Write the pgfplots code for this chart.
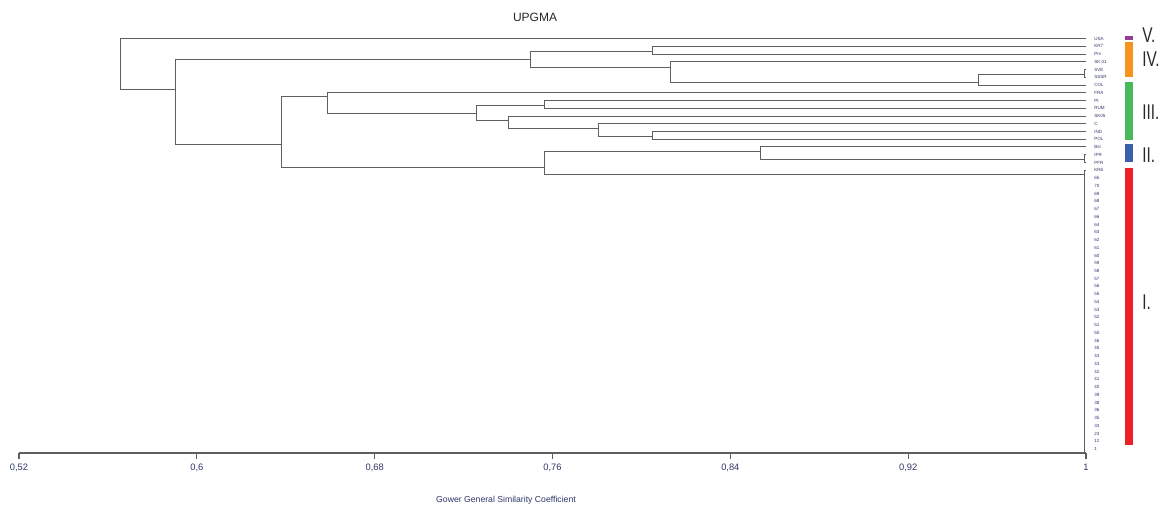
\documentclass[border=0pt]{standalone}
\usepackage{pgfplots}
\pgfplotsset{compat=1.18}
\usepackage{fontspec}
\setmainfont{Liberation Sans}
\newfontfamily\romanfont[FakeStretch=0.72]{Liberation Sans}
\definecolor{dend}{RGB}{95,95,95}
\definecolor{lab}{RGB}{45,55,105}
\definecolor{numc}{RGB}{40,40,40}
\definecolor{cV}{RGB}{150,60,150}
\definecolor{cIV}{RGB}{247,148,30}
\definecolor{cIII}{RGB}{76,184,92}
\definecolor{cII}{RGB}{58,95,173}
\definecolor{cI}{RGB}{236,32,39}
\tikzset{dd/.style={draw=dend, line width=0.75pt, mark=none, solid}}
\begin{document}
\begin{tikzpicture}
\useasboundingbox (0,0) rectangle (874.5pt,379.5pt);
\begin{axis}[
  at={(14.25pt,39.75pt)}, anchor=south west,
  scale only axis, width=800.25pt, height=316.65pt,
  xmin=0.52, xmax=1, ymin=-53.5, ymax=1,
  clip=false,
  axis x line*=bottom, axis y line*=right,
  y axis line style={draw=none},
  x axis line style={draw=dend, line width=0.8pt},
  xtick={0.52,0.6,0.68,0.76,0.84,0.92,1},
  xticklabels={{0,52},{0,6},{0,68},{0,76},{0,84},{0,92},{1}},
  xtick align=outside,
  xtick style={draw=dend, line width=0.8pt},
  major tick length=4.5pt,
  xticklabel style={font=\fontsize{7}{8}\selectfont, text=lab},
  ytick={-53,-52,...,0},
  yticklabels={1,12,23,34,35,36,38,39,40,41,42,43,44,45,46,50,51,52,53,54,55,56,57,58,59,60,61,62,63,64,66,67,68,69,70,65,KR6,PFR,IPR,Bsr,POL,IND,C,SK05,RUM,Pt,FRA,COL,SSSR,SVE,SK 01,Pm,KR7,USA},
  ytick style={draw=none},
  yticklabel style={font=\fontsize{3.4}{4}\selectfont, text=lab, anchor=west, inner sep=0pt, xshift=6pt},
  xlabel={Gower General Similarity Coefficient},
  xlabel style={at={(rel axis cs:0.4564,0)}, anchor=center, yshift=-35.25pt, font=\fontsize{6.5}{7}\selectfont, text=lab},
  title={UPGMA},
  title style={at={(rel axis cs:0.4836,1)}, anchor=base, yshift=0.65pt, font=\fontsize{9}{10}\selectfont, text=numc},
]
% dendrogram brackets
\addplot[dd] coordinates {(1,0) (0.5657,0) (0.5657,-6.56) (0.5906,-6.56)};
\addplot[dd] coordinates {(0.7503,-2.65) (0.5906,-2.65) (0.5906,-13.63) (0.638,-13.63)};
\addplot[dd] coordinates {(0.8051,-1.70) (0.7503,-1.70) (0.7503,-3.68) (0.8133,-3.68)};
\addplot[dd] coordinates {(1,-1) (0.8051,-1) (0.8051,-2) (1,-2)};
\addplot[dd] coordinates {(1,-3) (0.8133,-3) (0.8133,-5.66) (0.9516,-5.66)};
\addplot[dd] coordinates {(0.9995,-4.63) (0.9516,-4.63) (0.9516,-6) (1,-6)};
\addplot[dd] coordinates {(1,-4) (0.9995,-4) (0.9995,-5) (1,-5)};
\addplot[dd] coordinates {(0.659,-7.52) (0.638,-7.52) (0.638,-16.64) (0.7562,-16.64)};
\addplot[dd] coordinates {(1,-7) (0.659,-7) (0.659,-9.63) (0.726,-9.63)};
\addplot[dd] coordinates {(0.7562,-8.59) (0.726,-8.59) (0.726,-10.57) (0.7402,-10.57)};
\addplot[dd] coordinates {(1,-8) (0.7562,-8) (0.7562,-9) (1,-9)};
\addplot[dd] coordinates {(1,-10) (0.7402,-10) (0.7402,-11.6) (0.7808,-11.6)};
\addplot[dd] coordinates {(1,-11) (0.7808,-11) (0.7808,-12.6) (0.805,-12.6)};
\addplot[dd] coordinates {(1,-12) (0.805,-12) (0.805,-13) (1,-13)};
\addplot[dd] coordinates {(0.8537,-14.6) (0.7562,-14.6) (0.7562,-17.6) (0.9995,-17.6)};
\addplot[dd] coordinates {(1,-14) (0.8537,-14) (0.8537,-15.6) (0.9995,-15.6)};
\addplot[dd] coordinates {(1,-15) (0.9995,-15) (0.9995,-16) (1,-16)};
\addplot[dd] coordinates {(1,-17) (0.9995,-17) (0.9995,-53.4)};
% group bars
\addplot[draw=cV, line width=5.8pt, mark=none] coordinates {(1.0193,0.35) (1.0193,-0.25)};
\addplot[draw=cIV, line width=5.8pt, mark=none] coordinates {(1.0193,-0.47) (1.0193,-4.95)};
\addplot[draw=cIII, line width=5.8pt, mark=none] coordinates {(1.0193,-5.58) (1.0193,-13.1)};
\addplot[draw=cII, line width=5.8pt, mark=none] coordinates {(1.0193,-13.62) (1.0193,-15.95)};
\addplot[draw=cI, line width=5.8pt, mark=none] coordinates {(1.0193,-16.75) (1.0193,-52.5)};
% group names
\node[anchor=west, inner sep=0pt, font=\romanfont\fontsize{16}{16}\selectfont, text=numc] at (axis cs:1.0252,0.45) {V.};
\node[anchor=west, inner sep=0pt, font=\romanfont\fontsize{16}{16}\selectfont, text=numc] at (axis cs:1.0252,-2.71) {IV.};
\node[anchor=west, inner sep=0pt, font=\romanfont\fontsize{16}{16}\selectfont, text=numc] at (axis cs:1.0252,-9.5) {III.};
\node[anchor=west, inner sep=0pt, font=\romanfont\fontsize{16}{16}\selectfont, text=numc] at (axis cs:1.0252,-15.04) {II.};
\node[anchor=west, inner sep=0pt, font=\romanfont\fontsize{16}{16}\selectfont, text=numc] at (axis cs:1.0252,-34.0) {I.};
\end{axis}
\end{tikzpicture}
\end{document}
